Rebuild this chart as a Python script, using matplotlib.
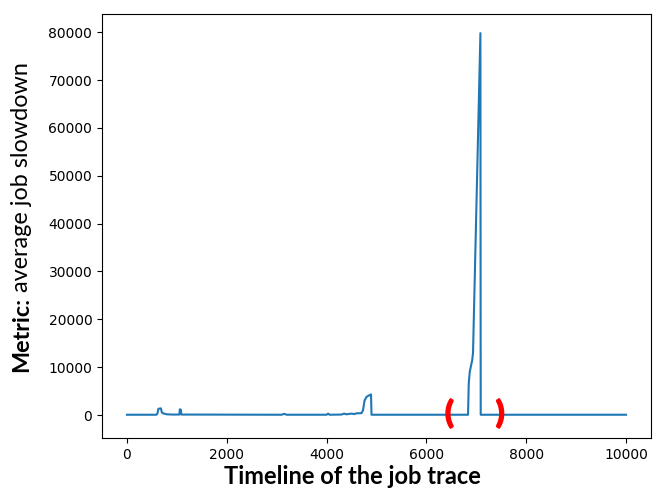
import matplotlib
matplotlib.use('Agg')
import matplotlib.pyplot as plt
import matplotlib.patheffects as pe

# job index along the trace and the average slowdown at that point
timeline = [0, 590, 610, 630, 680, 700, 740, 800, 900, 1050, 1060, 1080, 1090,
            3100, 3150, 3200, 4000, 4030, 4060, 4300, 4350, 4400, 4500, 4550,
            4600, 4700, 4730, 4760, 4800, 4850, 4890, 4900,
            6834, 6848, 6868, 6918, 6934, 7082, 7088, 10000]
slowdown = [60, 60, 300, 1300, 1400, 500, 300, 150, 100, 100, 1200, 1100, 100,
            60, 250, 60, 60, 300, 60, 100, 300, 150, 300, 200,
            350, 400, 1000, 3000, 3800, 4100, 4300, 60,
            60, 6500, 9000, 11500, 13000, 79800, 60, 60]

# red brackets marking the zoomed region
bracket_x = [6460, 7480]
bracket_txt = ['(', ')']

fig = plt.figure(figsize=(6.65, 4.92), dpi=100)
ax = fig.add_axes([102/665, 1-438/492, (651-102)/665, (438-14)/492])

ax.plot(timeline, slowdown, color='#1f77b4', lw=1.5)

for bx, bt in zip(bracket_x, bracket_txt):
    ax.text(bx, 300, bt, color='red', fontsize=22, fontweight='bold',
            ha='center', va='center', family='Lato',
            path_effects=[pe.withStroke(linewidth=1.4, foreground='red')])

ax.set_xticks([0, 2000, 4000, 6000, 8000, 10000])
ax.set_yticks([0, 10000, 20000, 30000, 40000, 50000, 60000, 70000, 80000])
ax.set_ylim(-4800, 83800)

fig.text(352/665, 1-476/492, 'Timeline of the job trace', ha='center', va='center',
         fontsize=17, fontweight='bold', family='Lato')

# y label: bold "Metric:" followed by normal text
t1 = fig.text(22/665, 1-372/492, 'Metric:', rotation=90, ha='center', va='bottom',
              fontsize=16.8, fontweight='bold', family='Lato')
fig.canvas.draw()
bb = t1.get_window_extent()
fig.text(22/665, (bb.y1 + 5)/492, 'average job slowdown', rotation=90, ha='center',
         va='bottom', fontsize=16.8, family='Lato')

fig.savefig('out.png', dpi=100)
